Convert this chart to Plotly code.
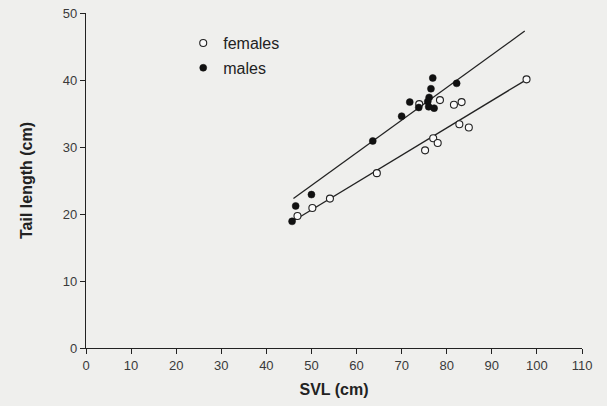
import plotly.graph_objects as go

# Data
female_svl = [97.7, 78.5, 81.6, 83.3, 82.8, 84.9, 73.9, 77.0, 78.0, 75.2, 64.5, 54.1, 50.2, 46.9]
female_tail = [40.1, 37.0, 36.3, 36.7, 33.4, 32.9, 36.4, 31.3, 30.6, 29.5, 26.1, 22.3, 20.9, 19.7]

male_svl = [76.9, 76.5, 82.2, 71.8, 76.1, 75.8, 76.0, 77.2, 73.8, 70.0, 63.6, 50.0, 46.5, 45.7]
male_tail = [40.3, 38.7, 39.5, 36.7, 37.4, 36.8, 36.0, 35.8, 35.9, 34.6, 30.9, 22.9, 21.2, 18.9]

# Regression line ends
male_fit_x = [46.0, 97.3]
male_fit_y = [22.3, 47.3]
female_fit_x = [46.3, 97.8]
female_fit_y = [19.1, 40.1]

x_ticks = list(range(0, 111, 10))
y_ticks = list(range(0, 51, 10))

BG = "#efefed"
FONT = "Liberation Sans, Arial, sans-serif"

fig = go.Figure()
fig.add_trace(go.Scatter(x=male_fit_x, y=male_fit_y, mode="lines",
                         line=dict(color="#222", width=1.3), showlegend=False, hoverinfo="skip"))
fig.add_trace(go.Scatter(x=female_fit_x, y=female_fit_y, mode="lines",
                         line=dict(color="#222", width=1.3), showlegend=False, hoverinfo="skip"))
fig.add_trace(go.Scatter(x=female_svl, y=female_tail, mode="markers", name="females",
                         legendgroup="f",
                         marker=dict(symbol="circle", size=7, color="#fafafa",
                                     line=dict(color="#222", width=1.1))))
fig.add_trace(go.Scatter(x=male_svl, y=male_tail, mode="markers", name="males",
                         legendgroup="m",
                         marker=dict(symbol="circle", size=7, color="#111",
                                     line=dict(color="#111", width=0.5))))

axis_common = dict(showgrid=False, zeroline=False, showline=True, linecolor="#222", linewidth=1.2,
                   ticks="outside", ticklen=5, tickcolor="#222", automargin=False,
                   tickfont=dict(family=FONT, size=13, color="#3a3a3a"))

fig.update_layout(
    width=607, height=406,
    margin=dict(l=86, r=25, t=13, b=58),
    paper_bgcolor=BG, plot_bgcolor=BG,
    font=dict(family=FONT, color="#222"),
    xaxis=dict(range=[0, 110], tickvals=x_ticks,
               title=dict(text="<b>SVL (cm)</b>", font=dict(family=FONT, size=16, color="#222"), standoff=12),
               **axis_common),
    yaxis=dict(range=[0, 50], tickvals=y_ticks,
               title=dict(text="<b>Tail length (cm)</b>", font=dict(family=FONT, size=16, color="#222"), standoff=26),
               **axis_common),
    legend=dict(x=0.196, y=0.961, xanchor="left", yanchor="top", bgcolor="rgba(0,0,0,0)",
                font=dict(family=FONT, size=16, color="#222"), itemwidth=30,
                traceorder="grouped", tracegroupgap=1),
)

fig.write_html("out.html", config={"displayModeBar": False},
               post_script="document.body.style.margin='0';document.body.style.overflow='hidden';document.body.style.background='%s';" % BG)
